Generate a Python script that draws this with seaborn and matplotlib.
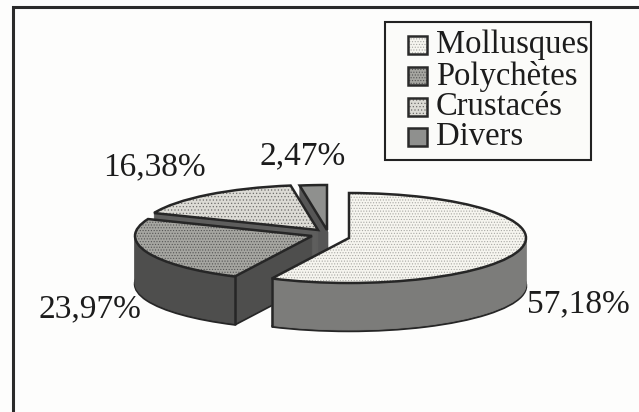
import numpy as np
import matplotlib
matplotlib.use("Agg")
import matplotlib.pyplot as plt
from matplotlib.patches import Rectangle
import seaborn as sns

sns.set_theme(style="white")
plt.rcParams['font.family'] = ['Liberation Serif', 'DejaVu Serif']
plt.rcParams['hatch.linewidth'] = 0.5

categories = ["Mollusques", "Polychètes", "Crustacés", "Divers"]
values = [57.18, 23.97, 16.38, 2.47]
labels = ["57,18%", "23,97%", "16,38%", "2,47%"]
top_colors = ["#f6f5ef", "#a6a6a1", "#dcdbd5", "#8f908e"]
side_colors = ["#7c7c7a", "#4e4e4d", "#5e5e5d", "#565656"]
top_hatch = ["......", "......", ".....", None]
hatch_colors = ["#a8a8a4", "#555555", "#6e6e6c", "#8f908e"]
offsets_px = [(0, 0), (-37, 2), (-31, 8), (-22, 8)]  # towards left, upward in pixels
# which corner of each wedge shows a vertical edge at the front of the block
front_corner = ["end", "start", None, None]

W, H = 639, 412
BG = "#fdfdfc"
fig = plt.figure(figsize=(W/100, H/100), dpi=100, facecolor=BG)
ax = fig.add_axes([0, 0, 1, 1])
ax.set_facecolor(BG)

depth = 48
cx, cy, rx, ry = 349, 412-238, 177, 45
INK = "#262626"
starts = 90 - np.cumsum([0] + values[:-1]) * 3.6

for i in [3, 2, 1, 0]:
    dx = offsets_px[i][0] / rx
    dy = offsets_px[i][1] / ry
    v = values[i] / 100
    for d in np.arange(depth, 0, -1.0):
        ax.pie([v], normalize=False, startangle=starts[i], counterclock=False,
               center=(dx, dy - d/ry), colors=[side_colors[i]],
               wedgeprops=dict(linewidth=1.8 if d == depth else 0.6,
                               edgecolor=INK if d == depth else side_colors[i]))
    # textured fill, then the outline on top of it
    ax.pie([v], normalize=False, startangle=starts[i], counterclock=False,
           center=(dx, dy), colors=[top_colors[i]],
           wedgeprops=dict(linewidth=0, edgecolor=hatch_colors[i], hatch=top_hatch[i]))
    ax.pie([v], normalize=False, startangle=starts[i], counterclock=False,
           center=(dx, dy), colors=["none"],
           wedgeprops=dict(linewidth=1.8, edgecolor=INK, facecolor="none"))
    if front_corner[i]:
        deg = starts[i] if front_corner[i] == "start" else starts[i] - values[i] * 3.6
        a = np.deg2rad(deg)
        ex, ey = dx + np.cos(a), dy + np.sin(a)
        ax.plot([ex, ex], [ey, ey - depth/ry], color=INK, lw=1.8)

ax.set_aspect("auto")
ax.set_xlim((0-cx)/rx, (W-cx)/rx)
ax.set_ylim((0-cy)/ry, (H-cy)/ry)

def px(x, y):
    return x / W, 1 - y / H

ax.plot([px(13, 0)[0], px(13, 0)[0], 1], [0, px(0, 7)[1], px(0, 7)[1]], transform=ax.transAxes,
        color="#2a2a2a", lw=2.2, zorder=5, solid_joinstyle="miter")
ax.add_patch(Rectangle(px(385, 160), (591-385)/W, (160-22)/H, transform=ax.transAxes,
                       fc="#fbfbf9", ec="#222222", lw=1.5, zorder=5))
ys = [45, 76, 107, 137]
for y, c, col, h, hc in zip(ys, categories, top_colors, top_hatch, hatch_colors):
    ax.add_patch(Rectangle(px(408, y+9), 19/W, 18/H, transform=ax.transAxes, fc=col, ec=hc,
                           lw=0, hatch=h, zorder=6))
    ax.add_patch(Rectangle(px(408, y+9), 19/W, 18/H, transform=ax.transAxes, fill=False,
                           ec="#2a2a2a", lw=1.8, zorder=6))
    x1, y1 = px(436, y)
    ax.text(x1, y1, c, transform=ax.transAxes, fontsize=23.5, va="center", ha="left", color="#1c1c1c", zorder=6)
for (x, y), t in zip([(578, 304), (90, 309), (154, 167), (303, 156)], labels):
    xa, ya = px(x, y)
    ax.text(xa, ya, t, transform=ax.transAxes, fontsize=24, va="center", ha="center", color="#1c1c1c", zorder=6)
fig.savefig("out.png", dpi=100, facecolor=fig.get_facecolor())
